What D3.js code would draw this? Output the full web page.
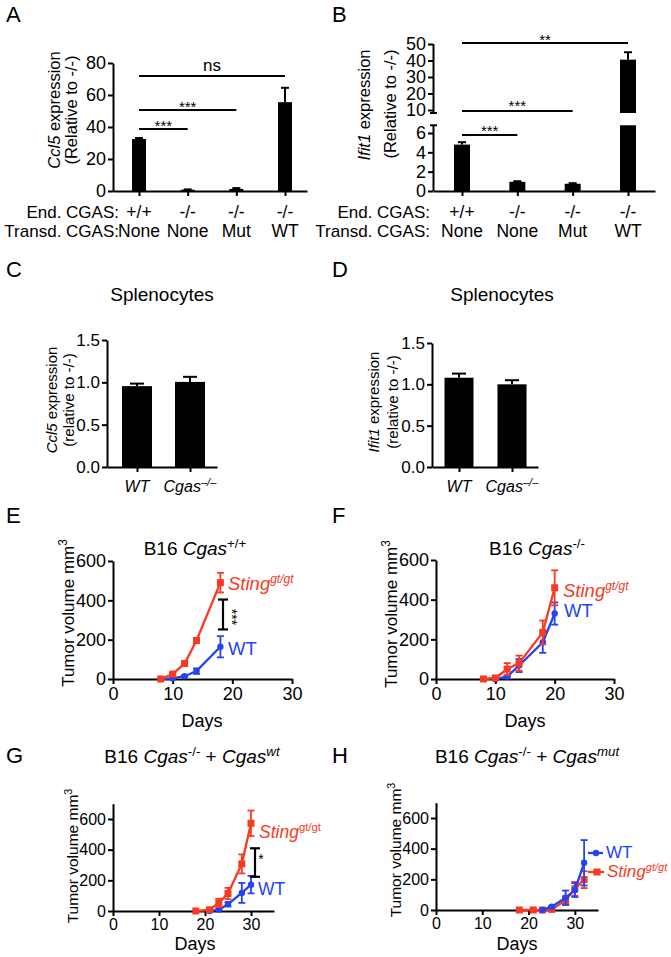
<!DOCTYPE html>
<html><head><meta charset="utf-8">
<script src="https://cdn.jsdelivr.net/npm/d3@7"></script>
<style>body{margin:0;background:#fff} svg{display:block}</style>
</head><body><svg id="c" width="671" height="957"></svg>
<script>
// ---------------- DATA ----------------
const endCgas = ["+/+", "-/-", "-/-", "-/-"];
const transdCgas = ["None", "None", "Mut", "WT"];
const ccl5Mean = [32.5, 0.8, 1.3, 55.5];
const ccl5Err = [0.6, 0.2, 0.5, 9];
const ccl5TicksA = [0, 20, 40, 60, 80];
const ifit1Mean = [4.8, 0.95, 0.75, 40.5];
const ifit1Err = [0.25, 0.06, 0.06, 4.5];
const ifit1TicksLow = [0, 2, 4, 6];
const ifit1TicksHigh = [10, 20, 30, 40, 50];
const splenoGroups = ["WT", "Cgas"];
const splenoCcl5Mean = [0.955, 1.005];
const splenoCcl5Err = [0.03, 0.06];
const splenoIfit1Mean = [1.08, 1.0];
const splenoIfit1Err = [0.05, 0.05];
const splenoTicks = [0, 0.5, 1.0, 1.5];
const tumorTicks = [0, 200, 400, 600];
const dayTicks = [0, 10, 20, 30];
// E
const eStingDays = [8, 10, 12, 14, 18], eStingMean = [0, 25, 79, 196, 490], eStingErr = [0, 6, 8, 12, 50];
const eWtDays = [8, 10, 12, 14, 18], eWtMean = [0, 3, 14, 40, 164], eWtErr = [0, 2, 5, 14, 54];
// F
const fStingDays = [8, 10, 12, 14, 18, 20], fStingMean = [0, 5, 50, 80, 235, 460], fStingErr = [0, 3, 30, 38, 60, 88];
const fWtDays = [10, 12, 14, 18, 20], fWtMean = [0, 12, 68, 185, 330], fWtErr = [0, 4, 33, 53, 56];
// G
const gStingDays = [18, 21, 23, 25, 28, 30], gStingMean = [0, 8, 53, 114, 307, 572], gStingErr = [0, 4, 27, 37, 62, 83];
const gWtDays = [21, 23, 25, 28, 30], gWtMean = [0, 9, 44, 118, 172], gWtErr = [0, 3, 14, 65, 57];
// H
const hWtDays = [23, 25, 28, 30, 32], hWtMean = [0, 22, 80, 130, 308], hWtErr = [0, 4, 47, 45, 148];
const hStingDays = [18, 21, 23, 25, 28, 30, 32], hStingMean = [0, 0, 0, 4, 62, 138, 198], hStingErr = [0, 0, 0, 2, 28, 45, 55];

// ---------------- DRAWING ----------------
const FONT = '"Liberation Sans", Arial, Helvetica, sans-serif';
const RED = "#f83a22", BLUE = "#2244f2";
const svg = d3.select("#c").style("font-family", FONT);

function styleAxis(g, fs) {
  g.selectAll(".domain, .tick line").attr("stroke", "#000").attr("stroke-width", 2);
  g.selectAll(".tick text").attr("font-size", fs).attr("fill", "#000").attr("font-family", FONT);
}
function txt(x, y, s, fs, anchor) {
  return svg.append("text").attr("x", x).attr("y", y).attr("font-size", fs)
    .attr("text-anchor", anchor || "start").attr("fill", "#000").text(s);
}
function rich(parent, x, y, parts, fs, anchor, transform, supRatio) {
  const sr = supRatio || 0.7;
  const t = parent.append("text").attr("x", x).attr("y", y).attr("font-size", fs)
    .attr("text-anchor", anchor || "start").attr("fill", "#000");
  if (transform) t.attr("transform", transform);
  let up = false;
  parts.forEach(p => {
    const ts = t.append("tspan").text(p[0]);
    if (p[1]) ts.attr("font-style", "italic");
    if (p[2] && !up) { ts.attr("dy", -fs * 0.38).attr("font-size", fs * sr); up = true; }
    else if (p[2]) { ts.attr("font-size", fs * sr); }
    else if (!p[2] && up) { ts.attr("dy", fs * 0.38); up = false; }
  });
  return t;
}
function panelLetter(x, y, s) { txt(x, y, s, 22); }
function errBar(g, x, yTop, yBot, cap, color, w) {
  g.append("line").attr("x1", x).attr("x2", x).attr("y1", yTop).attr("y2", yBot).attr("stroke", color).attr("stroke-width", w);
  g.append("line").attr("x1", x - cap).attr("x2", x + cap).attr("y1", yTop).attr("y2", yTop).attr("stroke", color).attr("stroke-width", w);
}
function sigLine(x1, x2, y, label, ly, fs) {
  svg.append("line").attr("x1", x1).attr("x2", x2).attr("y1", y).attr("y2", y).attr("stroke", "#000").attr("stroke-width", 2);
  txt((x1 + x2) / 2, ly, label, fs, "middle");
}

// ===== Panel A =====
panelLetter(6, 22, "A");
const yA = d3.scaleLinear().domain([0, 80]).range([191, 63]);
const xA = d3.scalePoint().domain(d3.range(4)).range([139, 285]);
const frameA = d3.scaleLinear().domain([0, 1]).range([113, 307]);
styleAxis(svg.append("g").attr("transform", "translate(113,0)")
  .call(d3.axisLeft(yA).tickValues(ccl5TicksA).tickSize(5).tickSizeOuter(0).tickPadding(2)), 18);
ccl5Mean.forEach((m, i) => {
  const g = svg.append("g");
  g.append("rect").attr("x", xA(i) - 7).attr("width", 14).attr("y", yA(m)).attr("height", yA(0) - yA(m)).attr("fill", "#000");
  errBar(g, xA(i), yA(m + ccl5Err[i]), yA(m), 4, "#000", 2);
});
styleAxis(svg.append("g").attr("transform", "translate(0,191)")
  .call(d3.axisBottom(frameA).tickValues([]).tickSizeOuter(0)), 18);
styleAxis(svg.append("g").attr("transform", "translate(0,191)")
  .call(d3.axisBottom(xA).tickSize(5).tickFormat("")).call(g => g.select(".domain").remove()), 18);
rich(svg, 0, 0, [["Ccl5", true], [" expression"]], 16.5, "middle", "translate(60,110) rotate(-90)");
txt(0, 0, "(Relative to -/-)", 16.5, "middle").attr("transform", "translate(77,110) rotate(-90)");
txt(119, 218, "End. CGAS:", 17, "end");
txt(119, 237, "Transd. CGAS:", 17, "end");
endCgas.forEach((s, i) => txt(xA(i), 218, s, 17.5, "middle"));
transdCgas.forEach((s, i) => txt(xA(i), 237, s, 17.5, "middle"));
sigLine(xA(0), xA(3), 76, "ns", 71, 17);
sigLine(xA(0), xA(2), 110, "***", 112, 15);
sigLine(xA(0), xA(1), 129, "***", 131, 15);

// ===== Panel B =====
panelLetter(332, 22, "B");
const yBl = d3.scaleLinear().domain([0, 6]).range([191, 133]);
const yBh = d3.scaleLinear().domain([10, 50]).range([110, 44]);
const xB = d3.scalePoint().domain(d3.range(4)).range([462, 628]);
const frameB = d3.scaleLinear().domain([0, 1]).range([433, 655]);
const lowTop = 6.8, highBot = 8.2;
const axL = svg.append("g").attr("transform", "translate(433,0)")
  .call(d3.axisLeft(yBl).tickValues(ifit1TicksLow).tickFormat(d3.format("d")).tickSize(5).tickPadding(2)).call(g => g.select(".domain").remove());
styleAxis(axL, 18);
const axH = svg.append("g").attr("transform", "translate(433,0)")
  .call(d3.axisLeft(yBh).tickValues(ifit1TicksHigh).tickFormat(d3.format("d")).tickSize(5).tickPadding(2)).call(g => g.select(".domain").remove());
styleAxis(axH, 18);
[[yBl(0), yBl(lowTop)], [yBh(highBot), yBh(50)]].forEach(([a, b]) =>
  svg.append("line").attr("x1", 433.5).attr("x2", 433.5).attr("y1", a).attr("y2", b).attr("stroke", "#000").attr("stroke-width", 2));
[yBl(lowTop), yBh(highBot)].forEach(y =>
  svg.append("line").attr("x1", 430).attr("x2", 437).attr("y1", y).attr("y2", y).attr("stroke", "#000").attr("stroke-width", 2));
ifit1Mean.forEach((m, i) => {
  const g = svg.append("g");
  const x = xB(i);
  if (m <= lowTop) {
    g.append("rect").attr("x", x - 8).attr("width", 16).attr("y", yBl(m)).attr("height", yBl(0) - yBl(m)).attr("fill", "#000");
    errBar(g, x, yBl(m + ifit1Err[i]), yBl(m), 4, "#000", 2);
  } else {
    g.append("rect").attr("x", x - 8).attr("width", 16).attr("y", yBl(lowTop)).attr("height", yBl(0) - yBl(lowTop)).attr("fill", "#000");
    g.append("rect").attr("x", x - 8).attr("width", 16).attr("y", yBh(m)).attr("height", yBh(highBot) - yBh(m)).attr("fill", "#000");
    errBar(g, x, yBh(m + ifit1Err[i]), yBh(m), 4, "#000", 2);
  }
});
styleAxis(svg.append("g").attr("transform", "translate(0,191)")
  .call(d3.axisBottom(frameB).tickValues([]).tickSizeOuter(0)), 18);
styleAxis(svg.append("g").attr("transform", "translate(0,191)")
  .call(d3.axisBottom(xB).tickSize(5).tickFormat("")).call(g => g.select(".domain").remove()), 18);
rich(svg, 0, 0, [["Ifit1", true], [" expression"]], 16.5, "middle", "translate(370,105) rotate(-90)");
txt(0, 0, "(Relative to -/-)", 16.5, "middle").attr("transform", "translate(396,104) rotate(-90)");
txt(430, 218, "End. CGAS:", 17, "end");
txt(430, 237, "Transd. CGAS:", 17, "end");
endCgas.forEach((s, i) => txt(xB(i), 218, s, 17.5, "middle"));
transdCgas.forEach((s, i) => txt(xB(i), 237, s, 17.5, "middle"));
sigLine(xB(0), xB(3), 43, "**", 45, 15);
sigLine(xB(0), xB(2), 111, "***", 111, 15);
sigLine(xB(0), xB(1), 135, "***", 136, 15);

// ===== Panels C & D =====
function splenoPanel(cfg) {
  panelLetter(cfg.lx, 277, cfg.letter);
  txt(cfg.tx, 301, "Splenocytes", 19, "middle");
  const y = d3.scaleLinear().domain([0, 1.5]).range([467, cfg.top]);
  const x = d3.scalePoint().domain(d3.range(2)).range(cfg.centers);
  const frame = d3.scaleLinear().domain([0, 1]).range([cfg.ax, cfg.axEnd]);
  styleAxis(svg.append("g").attr("transform", `translate(${cfg.ax},0)`)
    .call(d3.axisLeft(y).tickValues(splenoTicks).tickFormat(d3.format(".1f")).tickSize(5).tickSizeOuter(0).tickPadding(2)), 17);
  cfg.mean.forEach((m, i) => {
    const g = svg.append("g");
    g.append("rect").attr("x", x(i) - cfg.bw / 2).attr("width", cfg.bw).attr("y", y(m)).attr("height", y(0) - y(m)).attr("fill", "#000");
    errBar(g, x(i), y(m + cfg.err[i]), y(m), 7, "#000", 2);
  });
  styleAxis(svg.append("g").attr("transform", "translate(0,467)")
    .call(d3.axisBottom(frame).tickValues([]).tickSizeOuter(0)), 17);
  styleAxis(svg.append("g").attr("transform", "translate(0,467)")
    .call(d3.axisBottom(x).tickSize(5).tickFormat("")).call(g => g.select(".domain").remove()), 17);
  rich(svg, x(0), 492, [[splenoGroups[0], true]], 16, "middle");
  rich(svg, x(1), 492, [[splenoGroups[1], true], ["\u2013/\u2013", true, true]], 16, "middle");
  rich(svg, 0, 0, [[cfg.gene, true], [" expression"]], 15, "middle", `translate(${cfg.l1},${cfg.ly}) rotate(-90)`);
  txt(0, 0, "(relative to -/-)", 15, "middle").attr("transform", `translate(${cfg.l2},${cfg.ly}) rotate(-90)`);
}
splenoPanel({letter: "C", lx: 6, tx: 162, top: 340, ax: 107, axEnd: 217, centers: [137, 190], bw: 30,
  mean: splenoCcl5Mean, err: splenoCcl5Err, gene: "Ccl5", l1: 57, l2: 74, ly: 400});
splenoPanel({letter: "D", lx: 332, tx: 502, top: 343, ax: 432, axEnd: 538, centers: [459, 512], bw: 29,
  mean: splenoIfit1Mean, err: splenoIfit1Err, gene: "Ifit1", l1: 379, l2: 398, ly: 402});

// ===== Tumour growth panels =====
function growthPanel(cfg) {
  panelLetter(cfg.lx, cfg.ly, cfg.letter);
  const x = d3.scaleLinear().domain([0, cfg.xmax]).range([cfg.x0, cfg.x1]);
  const y = d3.scaleLinear().domain([0, 600]).range([cfg.y0, cfg.y600]);
  const yAx = d3.scaleLinear().domain([0, cfg.ymax]).range([cfg.y0, y(cfg.ymax)]);
  styleAxis(svg.append("g").attr("transform", `translate(${cfg.x0},0)`)
    .call(d3.axisLeft(yAx).tickValues(tumorTicks).tickSize(5).tickSizeOuter(0).tickPadding(2)), cfg.fs);
  styleAxis(svg.append("g").attr("transform", `translate(0,${cfg.y0})`)
    .call(d3.axisBottom(x).tickValues(dayTicks).tickSize(5).tickSizeOuter(0).tickPadding(3)), cfg.fs);
  cfg.series.forEach(s => {
    const g = svg.append("g");
    const pts = s.days.map((d, i) => [d, s.mean[i], s.err[i]]);
    pts.forEach(p => {
      if (p[2] > 0) {
        g.append("line").attr("x1", x(p[0])).attr("x2", x(p[0])).attr("y1", y(p[1] + p[2])).attr("y2", y(p[1] - p[2])).attr("stroke", s.color).attr("stroke-width", 1.8);
        [p[1] + p[2], p[1] - p[2]].forEach(v => g.append("line").attr("x1", x(p[0]) - 3.5).attr("x2", x(p[0]) + 3.5)
          .attr("y1", y(v)).attr("y2", y(v)).attr("stroke", s.color).attr("stroke-width", 1.8));
      }
    });
    g.append("path").datum(pts).attr("fill", "none").attr("stroke", s.color).attr("stroke-width", 2.3)
      .attr("d", d3.line().x(p => x(p[0])).y(p => y(p[1])));
    pts.forEach(p => {
      if (s.marker === "square") g.append("rect").attr("x", x(p[0]) - 3.5).attr("y", y(p[1]) - 3.5).attr("width", 7).attr("height", 7).attr("fill", s.color);
      else g.append("circle").attr("cx", x(p[0])).attr("cy", y(p[1])).attr("r", 3.2).attr("fill", s.color);
    });
    if (s.legendLine) {
      const ly = s.legendLine;
      g.append("line").attr("x1", ly[0]).attr("x2", ly[1]).attr("y1", ly[2]).attr("y2", ly[2]).attr("stroke", s.color).attr("stroke-width", 2.3);
      if (s.marker === "square") g.append("rect").attr("x", ly[3] - 3.5).attr("y", ly[2] - 3.5).attr("width", 7).attr("height", 7).attr("fill", s.color);
      else g.append("circle").attr("cx", ly[3]).attr("cy", ly[2]).attr("r", 3.2).attr("fill", s.color);
    }
    rich(svg, s.lab[0], s.lab[1], s.labParts, cfg.lfs, "start", null, 0.65).attr("fill", s.color);
  });
  rich(svg, cfg.tx, cfg.ty, cfg.title, 19, "middle");
  txt(0, 0, "", cfg.ylfs, "middle").attr("transform", `translate(${cfg.yl[0]},${cfg.yl[1]}) rotate(-90)`)
    .call(t => { t.append("tspan").text("Tumor volume mm"); t.append("tspan").text("3").attr("font-size", cfg.ylfs * 0.7).attr("dy", -cfg.ylfs * 0.4); });
  txt(cfg.dx, cfg.dy, "Days", 18, "middle");
  if (cfg.sig) {
    const [sx, v1, v2, lab, lx, lyy, rot] = cfg.sig;
    const g = svg.append("g");
    g.append("line").attr("x1", sx).attr("x2", sx).attr("y1", y(v1)).attr("y2", y(v2)).attr("stroke", "#000").attr("stroke-width", 2.2);
    [v1, v2].forEach(v => g.append("line").attr("x1", sx - 5).attr("x2", sx + 5).attr("y1", y(v)).attr("y2", y(v)).attr("stroke", "#000").attr("stroke-width", 2.2));
    txt(0, 0, lab, 14, "middle").attr("transform", `translate(${lx},${lyy})` + (rot ? " rotate(90)" : ""));
  }
}
const stingLab = (italSup) => [["Sting", true], ["gt/gt", italSup, true]];

growthPanel({letter: "E", lx: 6, ly: 523, xmax: 30, x0: 113, x1: 292, y0: 679, y600: 561, ymax: 600, fs: 18, lfs: 18.5, ylfs: 17,
  series: [
    {days: eWtDays, mean: eWtMean, err: eWtErr, color: BLUE, marker: "circle", lab: [228, 655], labParts: [["WT"]]},
    {days: eStingDays, mean: eStingMean, err: eStingErr, color: RED, marker: "square", lab: [228, 590], labParts: stingLab(true)}
  ],
  title: [["B16 "], ["Cgas", true], ["+/+", false, true]], tx: 195, ty: 555,
  yl: [74, 613], dx: 202, dy: 727, sig: [223, 404, 252, "***", 227, 617, true]});
growthPanel({letter: "F", lx: 332, ly: 523, xmax: 30, x0: 436, x1: 614, y0: 679, y600: 560, ymax: 600, fs: 18, lfs: 18.5, ylfs: 17,
  series: [
    {days: fWtDays, mean: fWtMean, err: fWtErr, color: BLUE, marker: "circle", lab: [564, 617], labParts: [["WT"]]},
    {days: fStingDays, mean: fStingMean, err: fStingErr, color: RED, marker: "square", lab: [563, 597], labParts: stingLab(true)}
  ],
  title: [["B16 "], ["Cgas", true], ["-/-", false, true]], tx: 537, ty: 555,
  yl: [397, 614], dx: 525, dy: 727});
growthPanel({letter: "G", lx: 6, ly: 763, xmax: 35, x0: 113, x1: 274, y0: 911, y600: 819, ymax: 700, fs: 16, lfs: 17.5, ylfs: 15.5,
  series: [
    {days: gWtDays, mean: gWtMean, err: gWtErr, color: BLUE, marker: "circle", lab: [258, 895], labParts: [["WT"]]},
    {days: gStingDays, mean: gStingMean, err: gStingErr, color: RED, marker: "square", lab: [259, 838], labParts: stingLab(false)}
  ],
  title: [["B16 "], ["Cgas", true], ["-/-", false, true], [" + "], ["Cgas", true], ["wt", true, true]], tx: 192, ty: 763,
  yl: [78, 856], dx: 195, dy: 950, sig: [255, 409, 223, "*", 261, 864, false]});
growthPanel({letter: "H", lx: 332, ly: 763, xmax: 35, x0: 436, x1: 598, y0: 910, y600: 818, ymax: 700, fs: 16, lfs: 17, ylfs: 15.5,
  series: [
    {days: hStingDays, mean: hStingMean, err: hStingErr, color: RED, marker: "square", lab: [607, 877], labParts: stingLab(true), legendLine: [588, 604, 872, 597]},
    {days: hWtDays, mean: hWtMean, err: hWtErr, color: BLUE, marker: "circle", lab: [606, 858], labParts: [["WT"]], legendLine: [588, 603, 853, 596]}
  ],
  title: [["B16 "], ["Cgas", true], ["-/-", false, true], [" + "], ["Cgas", true], ["mut", true, true]], tx: 527, ty: 763,
  yl: [401, 850], dx: 517, dy: 950});
</script></body></html>
